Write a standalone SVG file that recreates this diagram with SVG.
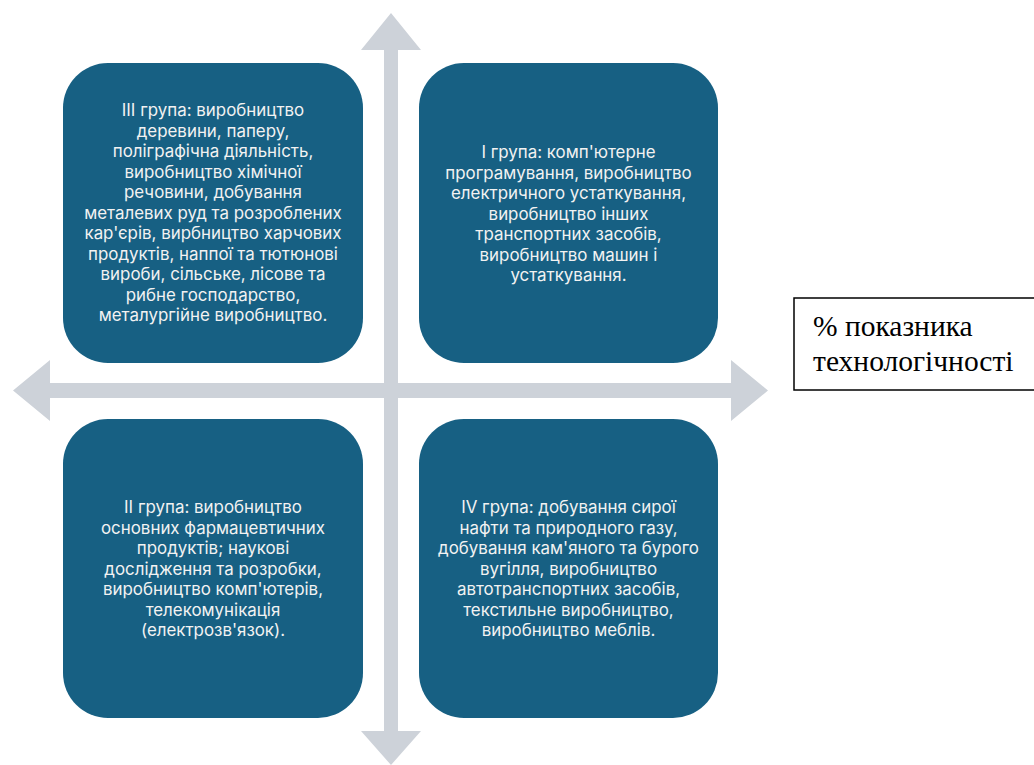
<svg xmlns="http://www.w3.org/2000/svg" width="1034" height="765" viewBox="0 0 1034 765">
<style>
.box{fill:#176083}
.t{font-family:Inter,"Noto Sans","DejaVu Sans",sans-serif;font-size:16.9px;fill:#f2f2f2;text-anchor:middle}
.ax{fill:#cdd2d9}
.lbl{font-family:"Liberation Serif",serif;font-size:29.5px;fill:#000}
</style>
<rect width="1034" height="765" fill="#fff"/>
<g id="connectors">
<polygon class="ax" points="384,50 361,50 391,13 421,50 398,50 398,731 421,731 391,765 361,731 384,731"/>
<polygon class="ax" points="50,383 50,360 13,390.5 50,421 50,398 731,398 731,421 768,390.5 731,360 731,383"/>
</g>
<g id="g3">
<rect class="box" x="63" y="63" width="300" height="300" rx="45"/>
<text class="t"><tspan x="213" y="116">III група: виробництво</tspan><tspan x="213" y="136.5">деревини, паперу,</tspan><tspan x="213" y="157">поліграфічна діяльність,</tspan><tspan x="213" y="177.5">виробництво хімічної</tspan><tspan x="213" y="198">речовини, добування</tspan><tspan x="213" y="218.5">металевих руд та розроблених</tspan><tspan x="213" y="239">кар'єрів, вирбництво харчових</tspan><tspan x="213" y="259.5">продуктів, наппої та тютюнові</tspan><tspan x="213" y="280">вироби, сільське, лісове та</tspan><tspan x="213" y="300.5">рибне господарство,</tspan><tspan x="213" y="321">металургійне виробництво.</tspan></text>
</g>
<g id="g1">
<rect class="box" x="419" y="63" width="299" height="300" rx="45"/>
<text class="t"><tspan x="568.5" y="158">І група: комп'ютерне</tspan><tspan x="568.5" y="178.5">програмування, виробництво</tspan><tspan x="568.5" y="199">електричного устаткування,</tspan><tspan x="568.5" y="219.5">виробництво інших</tspan><tspan x="568.5" y="240">транспортних засобів,</tspan><tspan x="568.5" y="260.5">виробництво машин і</tspan><tspan x="568.5" y="281">устаткування.</tspan></text>
</g>
<g id="g2">
<rect class="box" x="63" y="419" width="300" height="299" rx="45"/>
<text class="t"><tspan x="213" y="513">ІІ група: виробництво</tspan><tspan x="213" y="533.5">основних фармацевтичних</tspan><tspan x="213" y="554">продуктів; наукові</tspan><tspan x="213" y="574.5">дослідження та розробки,</tspan><tspan x="213" y="595">виробництво комп'ютерів,</tspan><tspan x="213" y="615.5">телекомунікація</tspan><tspan x="213" y="636">(електрозв'язок).</tspan></text>
</g>
<g id="g4">
<rect class="box" x="419" y="419" width="299" height="299" rx="45"/>
<text class="t"><tspan x="568.5" y="513">IV група: добування сирої</tspan><tspan x="568.5" y="533.5">нафти та природного газу,</tspan><tspan x="568.5" y="554">добування кам'яного та бурого</tspan><tspan x="568.5" y="574.5">вугілля, виробництво</tspan><tspan x="568.5" y="595">автотранспортних засобів,</tspan><tspan x="568.5" y="615.5">текстильне виробництво,</tspan><tspan x="568.5" y="636">виробництво меблів.</tspan></text>
</g>
<g id="label">
<rect x="794" y="298" width="245" height="92" fill="#fff" stroke="#000" stroke-width="1.5"/>
<text class="lbl"><tspan x="813" y="336">% показника</tspan><tspan x="813" y="371">технологічності</tspan></text>
</g>
</svg>
